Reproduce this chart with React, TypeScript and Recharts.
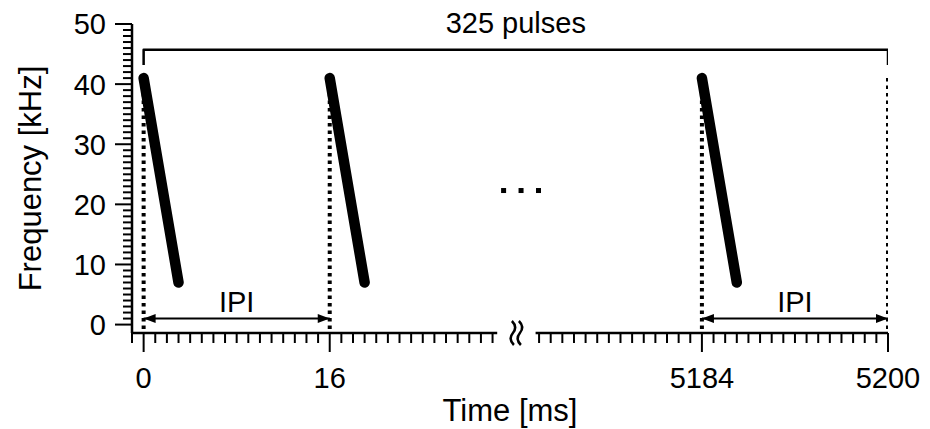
import React from "react";
import {
  LineChart,
  Line,
  XAxis,
  YAxis,
  ReferenceLine,
  ReferenceDot,
  Label,
} from "recharts";

// time axis is broken: 0..30 ms on the left, 5170..5200 ms on the right
const BREAK_AT = 1000;
const RIGHT_ORIGIN_MS = 5184;
const RIGHT_ORIGIN_U = 48;
const toU = (t: number) => (t < BREAK_AT ? t : t - RIGHT_ORIGIN_MS + RIGHT_ORIGIN_U);
const fromU = (u: number) => (u < 32 ? u : u + RIGHT_ORIGIN_MS - RIGHT_ORIGIN_U);

const pulseStartMs = [0, 16, 5184];
const pulseEndMs = [3, 19, 5187];
const pulseFreqKHz = [41, 7]; // start, end of each FM sweep
const markerMs = [0, 16, 5184, 5200];
const ipiStartMs = [0, 5184];
const ipiEndMs = [16, 5200];
const ipiLevelKHz = 1;
const bracketMs = [0, 5200];
const bracketKHz = [43.2, 45.7];
const bracketText = "325 pulses";
const xLabelsMs = [0, 16, 5184, 5200];
const leftMinorMs = [-1, 30];
const rightMinorMs = [5170, 5200];
const yMajor = [0, 10, 20, 30, 40, 50];
const yMin = -1.4;
const ellipsisU = [30.95, 32.45, 33.95];
const ellipsisKHz = 22.3;
const axisLeftEndU = 30.4;
const axisRightStartU = 33.7;

const range = (a: number, b: number) => {
  const out: number[] = [];
  for (let v = a; v <= b; v++) out.push(v);
  return out;
};

const xTicks = [
  ...range(leftMinorMs[0], leftMinorMs[1]).map(toU),
  ...range(rightMinorMs[0], rightMinorMs[1]).map(toU),
];
const yTicks = range(0, 50);
const majorU = xLabelsMs.map(toU);

const FONT = "'Liberation Sans', Arial, sans-serif";

const XTick = (props: any) => {
  const { x, y, payload } = props;
  const u = payload.value;
  const major = majorU.includes(u);
  return (
    <g>
      <line x1={x} y1={y} x2={x} y2={y + (major ? 19 : 10)} stroke="#000" strokeWidth={2} />
      {major && (
        <text x={x} y={y + 55} textAnchor="middle" fontSize={29} fill="#000" fontFamily={FONT}>
          {fromU(u)}
        </text>
      )}
    </g>
  );
};

const YTick = (props: any) => {
  const { x, y, payload } = props;
  const v = payload.value;
  const major = yMajor.includes(v);
  return (
    <g>
      <line x1={x - (major ? 17 : 9)} y1={y} x2={x} y2={y} stroke="#000" strokeWidth={2} />
      {major && (
        <text x={x - 26} y={y} dy="0.36em" textAnchor="end" fontSize={29} fill="#000" fontFamily={FONT}>
          {v}
        </text>
      )}
    </g>
  );
};

const ArrowHead = (props: any) => {
  const { cx, cy, index } = props;
  const d = index === 0 ? 1 : -1;
  return (
    <polygon
      key={`ah-${index}-${cx}`}
      points={`${cx},${cy} ${cx + d * 12},${cy - 4.5} ${cx + d * 12},${cy + 4.5}`}
      fill="#000"
    />
  );
};

const TextShape = (text: string, dy: number) => (props: any) => (
  <text
    x={props.cx}
    y={props.cy + dy}
    textAnchor="middle"
    fontSize={29}
    fill="#000"
    fontFamily={FONT}
  >
    {text}
  </text>
);

const BreakMark = (props: any) => {
  const { cx, cy } = props;
  const wave = (x: number) =>
    `M ${x - 1} ${cy - 12} Q ${x + 5} ${cy - 6} ${x} ${cy} Q ${x - 5} ${cy + 6} ${x + 1} ${cy + 12}`;
  return (
    <g>
      <path d={wave(cx - 3.5)} stroke="#000" strokeWidth={2.5} fill="none" />
      <path d={wave(cx + 3.5)} stroke="#000" strokeWidth={2.5} fill="none" />
    </g>
  );
};

const SquareDot = (props: any) => (
  <rect key={`sd-${props.index}`} x={props.cx - 2.5} y={props.cy - 2.5} width={5} height={5} fill="#000" />
);

export default function App() {
  const pulses = pulseStartMs.map((s, i) => [
    { u: toU(s), f: pulseFreqKHz[0] },
    { u: toU(pulseEndMs[i]), f: pulseFreqKHz[1] },
  ]);
  const markers = markerMs.map((t) => [
    { u: toU(t), f: pulseFreqKHz[0] },
    { u: toU(t), f: yMin },
  ]);
  const ipis = ipiStartMs.map((s, i) => [
    { u: toU(s), f: ipiLevelKHz },
    { u: toU(ipiEndMs[i]), f: ipiLevelKHz },
  ]);
  const bracket = [
    { u: toU(bracketMs[0]), f: bracketKHz[0] },
    { u: toU(bracketMs[0]), f: bracketKHz[1] },
    { u: toU(bracketMs[1]), f: bracketKHz[1] },
    { u: toU(bracketMs[1]), f: bracketKHz[0] },
  ];
  const dots = ellipsisU.map((u) => ({ u, f: ellipsisKHz }));

  return (
    <div style={{ position: "absolute", left: 0, top: 0, width: 930, height: 429, background: "#fff" }}>
      <LineChart
        width={930}
        height={429}
        margin={{ top: 24, right: 42, bottom: 0, left: 0 }}
        style={{ fontFamily: FONT }}
      >
        <XAxis
          type="number"
          dataKey="u"
          domain={[-1, 64]}
          allowDataOverflow
          ticks={xTicks}
          interval={0}
          tick={<XTick />}
          tickLine={false}
          axisLine={false}
          tickSize={0}
          tickMargin={0}
          height={96}
        >
          <Label
            content={(p: any) => {
              const vb = p.viewBox || { x: 132, y: 333, width: 756, height: 96 };
              return (
                <text x={vb.x + vb.width / 2} y={vb.y + 88} textAnchor="middle" fontSize={31} fill="#000" fontFamily={FONT}>
                  Time [ms]
                </text>
              );
            }}
          />
        </XAxis>
        <YAxis
          type="number"
          domain={[yMin, 50]}
          allowDataOverflow
          ticks={yTicks}
          interval={0}
          tick={<YTick />}
          tickLine={false}
          axisLine={{ stroke: "#000", strokeWidth: 2.5 }}
          tickSize={0}
          tickMargin={0}
          width={132}
        >
          <Label
            content={(p: any) => {
              const vb = p.viewBox || { x: 0, y: 24, width: 132, height: 309 };
              const cy = vb.y + vb.height / 2;
              return (
                <text x={41} y={cy} transform={`rotate(-90, 41, ${cy})`} textAnchor="middle" fontSize={31} fill="#000" fontFamily={FONT}>
                  Frequency [kHz]
                </text>
              );
            }}
          />
        </YAxis>

        <ReferenceLine
          segment={[{ x: -1, y: yMin }, { x: axisLeftEndU, y: yMin }]}
          stroke="#000"
          strokeWidth={2.5}
        />
        <ReferenceLine
          segment={[{ x: axisRightStartU, y: yMin }, { x: 64, y: yMin }]}
          stroke="#000"
          strokeWidth={2.5}
        />
        <ReferenceDot
          x={(axisLeftEndU + axisRightStartU) / 2}
          y={yMin}
          r={0}
          shape={BreakMark}
        />

        {markers.map((d, i) => (
          <Line
            key={`m${i}`}
            data={d}
            dataKey="f"
            stroke="#000"
            strokeWidth={4}
            strokeDasharray="3.5 4"
            dot={false}
            isAnimationActive={false}
          />
        ))}

        <Line
          data={bracket}
          dataKey="f"
          stroke="#000"
          strokeWidth={2.5}
          strokeLinejoin="round"
          dot={false}
          isAnimationActive={false}
        />
        <ReferenceDot
          x={(toU(bracketMs[0]) + toU(bracketMs[1])) / 2}
          y={bracketKHz[1]}
          r={0}
          shape={TextShape(bracketText, -17)}
        />

        {ipis.map((d, i) => (
          <Line
            key={`ipi${i}`}
            data={d}
            dataKey="f"
            stroke="#000"
            strokeWidth={2}
            dot={<ArrowHead />}
            isAnimationActive={false}
          />
        ))}
        {ipiStartMs.map((s, i) => (
          <ReferenceDot
            key={`ipit${i}`}
            x={(toU(s) + toU(ipiEndMs[i])) / 2}
            y={ipiLevelKHz}
            r={0}
            shape={TextShape("IPI", -7)}
          />
        ))}

        {pulses.map((d, i) => (
          <Line
            key={`p${i}`}
            data={d}
            dataKey="f"
            stroke="#000"
            strokeWidth={10.5}
            strokeLinecap="round"
            dot={false}
            isAnimationActive={false}
          />
        ))}

        <Line
          data={dots}
          dataKey="f"
          stroke="none"
          dot={<SquareDot />}
          isAnimationActive={false}
        />
      </LineChart>
    </div>
  );
}
